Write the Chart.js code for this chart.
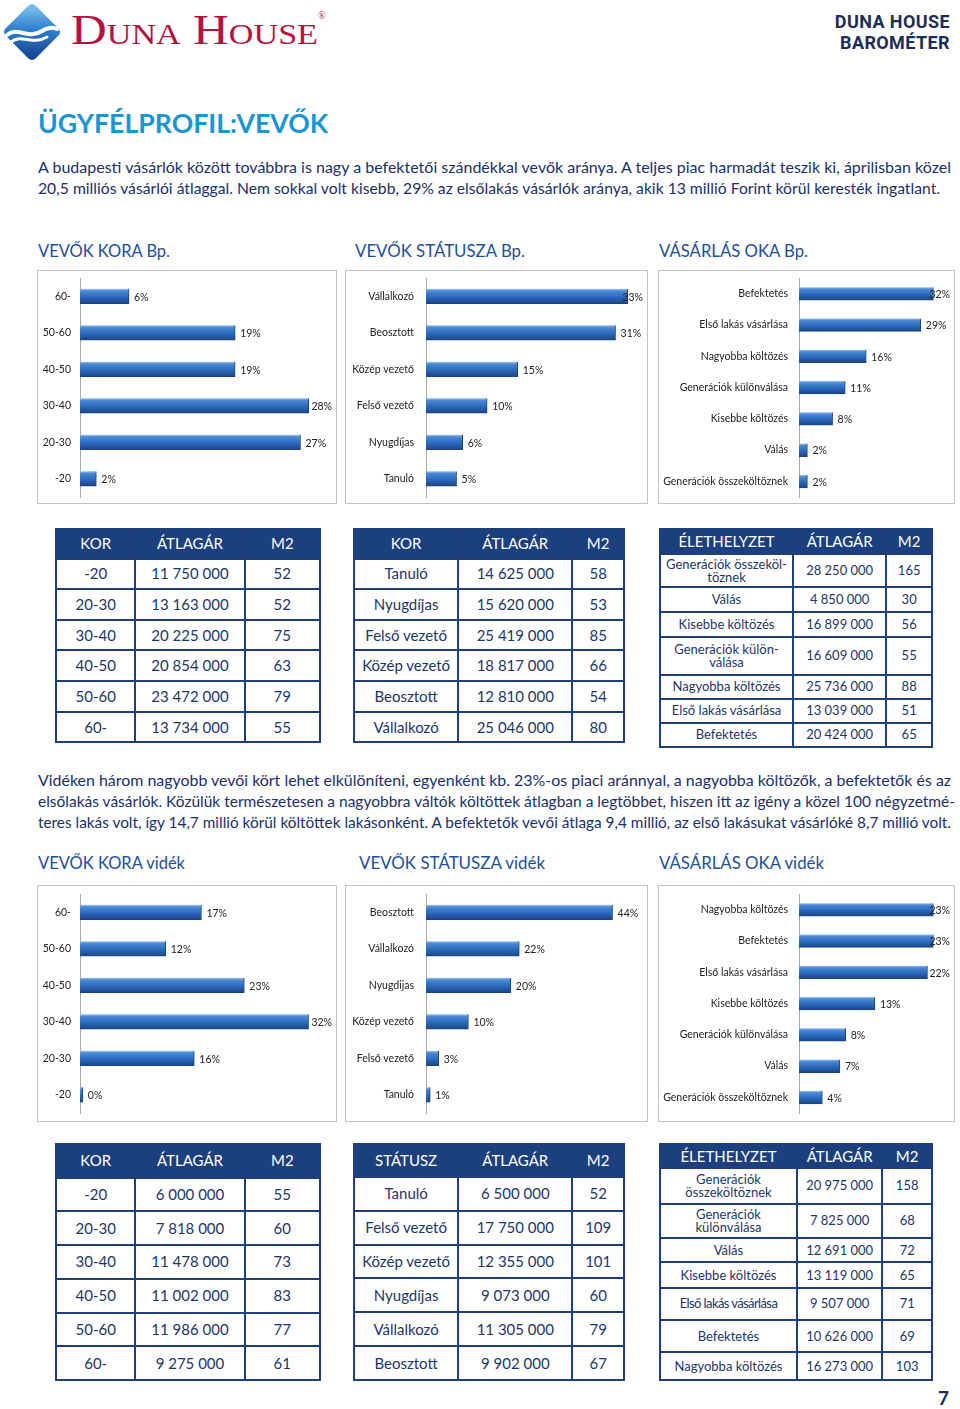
<!DOCTYPE html>
<html><head><meta charset="utf-8">
<script src="https://cdn.jsdelivr.net/npm/chart.js@4.4.1/dist/chart.umd.min.js"></script>
<style>
html,body{margin:0;padding:0;}
body{width:960px;height:1409px;background:#fff;position:relative;overflow:hidden;font-family:Lato,"Open Sans",sans-serif;}
.fit{position:absolute;white-space:nowrap;transform-origin:0 50%;line-height:20px;}
.para{font-size:16px;color:#1b3068;}
.head{font-size:17px;color:#1e4f98;}
.box{position:absolute;border:1px solid #c4c4c4;box-sizing:border-box;}
canvas{position:absolute;}
.tbl{position:absolute;display:grid;background:#1f3f7c;gap:2px;padding:2px;box-sizing:border-box;}
.tbl div{background:#fff;color:#1d3567;display:flex;align-items:center;justify-content:center;text-align:center;white-space:pre-line;font-size:14.5px;line-height:13px;}
.tbl div.h{background:#1c3f7e;color:#fff;font-size:15px;}
</style></head>
<body>
<svg width="66" height="66" viewBox="0 0 66 66" style="position:absolute;left:0;top:0">
<defs><linearGradient id="lg" x1="0" y1="0" x2="1" y2="1"><stop offset="0" stop-color="#8ccbf2"/><stop offset="0.45" stop-color="#2f80d0"/><stop offset="1" stop-color="#143c88"/></linearGradient></defs>
<rect x="10.8" y="10.8" width="42.4" height="42.4" rx="5" transform="rotate(45 32 32)" fill="url(#lg)"/>
<path d="M7 35 C18 26, 28 40, 42 31 C48 27, 53 27, 57 29" stroke="#fff" stroke-width="4" fill="none" stroke-linecap="round"/>
<path d="M11 42 C22 33, 32 46, 47 37" stroke="#fff" stroke-width="3" fill="none" stroke-linecap="round"/>
</svg>
<div class="fit" data-w="247" style="left:71px;top:9px;line-height:42px;font-family:'Liberation Serif','DejaVu Serif',serif;font-size:42px;font-variant:small-caps;color:#b5123e;">Duna House</div>
<div style="position:absolute;left:318px;top:10px;font-size:10px;color:#b5123e;font-family:'Liberation Serif',serif;">®</div>
<div style="position:absolute;right:10px;top:11px;text-align:right;font-family:Roboto,'DejaVu Sans',sans-serif;font-weight:bold;font-size:18px;line-height:21px;color:#1e2d55;letter-spacing:0.4px;">DUNA HOUSE<br>BAROMÉTER</div>

<div class="fit" data-w="290" style="left:38px;top:108px;line-height:30px;font-size:27px;font-weight:bold;color:#1a95d3;">ÜGYFÉLPROFIL:VEVŐK</div>

<div class="fit para" data-w="913" style="left:38px;top:157px;">A budapesti vásárlók között továbbra is nagy a befektetői szándékkal vevők aránya. A teljes piac harmadát teszik ki, áprilisban közel</div>
<div class="fit para" data-w="902" style="left:38px;top:178px;">20,5 milliós vásárlói átlaggal. Nem sokkal volt kisebb, 29% az elsőlakás vásárlók aránya, akik 13 millió Forint körül keresték ingatlant.</div>

<div class="fit head" data-w="132" style="left:38px;top:241px;">VEVŐK KORA Bp.</div>
<div class="fit head" data-w="170" style="left:355px;top:241px;">VEVŐK STÁTUSZA Bp.</div>
<div class="fit head" data-w="149" style="left:659px;top:241px;">VÁSÁRLÁS OKA Bp.</div>

<div class="box" style="left:37px;top:270px;width:300px;height:234px;"></div>
<div class="box" style="left:345px;top:270px;width:303px;height:234px;"></div>
<div class="box" style="left:658px;top:270px;width:297px;height:234px;"></div>
<canvas id="c1" width="299" height="233" style="left:37px;top:270px;"></canvas>
<canvas id="c2" width="302" height="233" style="left:345px;top:270px;"></canvas>
<canvas id="c3" width="296" height="233" style="left:658px;top:270px;"></canvas>

<div class="fit para" data-w="913" style="left:38px;top:770px;">Vidéken három nagyobb vevői kört lehet elkülöníteni, egyenként kb. 23%-os piaci aránnyal, a nagyobba költözők, a befektetők és az</div>
<div class="fit para" data-w="917" style="left:38px;top:791px;">elsőlakás vásárlók. Közülük természetesen a nagyobbra váltók költöttek átlagban a legtöbbet, hiszen itt az igény a közel 100 négyzetmé-</div>
<div class="fit para" data-w="913" style="left:38px;top:812px;">teres lakás volt, így 14,7 millió körül költöttek lakásonként. A befektetők vevői átlaga 9,4 millió, az első lakásukat vásárlóké 8,7 millió volt.</div>

<div class="fit head" data-w="147" style="left:38px;top:853px;">VEVŐK KORA vidék</div>
<div class="fit head" data-w="186" style="left:359px;top:853px;">VEVŐK STÁTUSZA vidék</div>
<div class="fit head" data-w="165" style="left:659px;top:853px;">VÁSÁRLÁS OKA vidék</div>

<div class="box" style="left:37px;top:885px;width:300px;height:237px;"></div>
<div class="box" style="left:345px;top:885px;width:303px;height:237px;"></div>
<div class="box" style="left:658px;top:885px;width:297px;height:237px;"></div>
<canvas id="c4" width="299" height="236" style="left:37px;top:885px;"></canvas>
<canvas id="c5" width="302" height="236" style="left:345px;top:885px;"></canvas>
<canvas id="c6" width="296" height="236" style="left:658px;top:885px;"></canvas>

<div id="tables"></div>
<div style="position:absolute;left:938px;top:1386px;font-size:19px;font-weight:bold;color:#1e2d55;">7</div>

<script>
// ---- Bar chart data ----
const ageLabelsBp = ['60-','50-60','40-50','30-40','20-30','-20'];
const ageBp = [6,19,19,28,27,2];
const statusLabelsBp = ['Vállalkozó','Beosztott','Közép vezető','Felső vezető','Nyugdíjas','Tanuló'];
const statusBp = [33,31,15,10,6,5];
const reasonLabelsBp = ['Befektetés','Első lakás vásárlása','Nagyobba költözés','Generációk különválása','Kisebbe költözés','Válás','Generációk összeköltöznek'];
const reasonBp = [32,29,16,11,8,2,2];
const ageLabelsVid = ['60-','50-60','40-50','30-40','20-30','-20'];
const ageVid = [17,12,23,32,16,0.4];
const statusLabelsVid = ['Beosztott','Vállalkozó','Nyugdijas','Közép vezető','Felső vezető','Tanuló'];
const statusVid = [44,22,20,10,3,1];
const reasonLabelsVid = ['Nagyobba költözés','Befektetés','Első lakás vásárlása','Kisebbe költözés','Generációk különválása','Válás','Generációk összeköltöznek'];
const reasonVid = [23,23,22,13,8,7,4];

// ---- Table data ----
const hdrAge = ['KOR','ÁTLAGÁR','M2'];
const hdrStatusBp = ['KOR','ÁTLAGÁR','M2'];
const hdrStatusVid = ['STÁTUSZ','ÁTLAGÁR','M2'];
const hdrReason = ['ÉLETHELYZET','ÁTLAGÁR','M2'];
const tAgeBpCat = ['-20','20-30','30-40','40-50','50-60','60-'];
const tAgeBpPrice = ['11 750 000','13 163 000','20 225 000','20 854 000','23 472 000','13 734 000'];
const tAgeBpM2 = [52,52,75,63,79,55];
const tStatusBpCat = ['Tanuló','Nyugdíjas','Felső vezető','Közép vezető','Beosztott','Vállalkozó'];
const tStatusBpPrice = ['14 625 000','15 620 000','25 419 000','18 817 000','12 810 000','25 046 000'];
const tStatusBpM2 = [58,53,85,66,54,80];
const tReasonBpCat = ['Generációk összeköl-\ntöznek','Válás','Kisebbe költözés','Generációk külön-\nválása','Nagyobba költözés','Első lakás vásárlása','Befektetés'];
const tReasonBpPrice = ['28 250 000','4 850 000','16 899 000','16 609 000','25 736 000','13 039 000','20 424 000'];
const tReasonBpM2 = [165,30,56,55,88,51,65];
const tAgeVidCat = ['-20','20-30','30-40','40-50','50-60','60-'];
const tAgeVidPrice = ['6 000 000','7 818 000','11 478 000','11 002 000','11 986 000','9 275 000'];
const tAgeVidM2 = [55,60,73,83,77,61];
const tStatusVidCat = ['Tanuló','Felső vezető','Közép vezető','Nyugdíjas','Vállalkozó','Beosztott'];
const tStatusVidPrice = ['6 500 000','17 750 000','12 355 000','9 073 000','11 305 000','9 902 000'];
const tStatusVidM2 = [52,109,101,60,79,67];
const tReasonVidCat = ['Generációk\nösszeköltöznek','Generációk\nkülönválása','Válás','Kisebbe költözés','Első lakás vásárlása','Befektetés','Nagyobba költözés'];
const tReasonVidPrice = ['20 975 000','7 825 000','12 691 000','13 119 000','9 507 000','10 626 000','16 273 000'];
const tReasonVidM2 = [158,68,72,65,71,69,103];

// fit text widths
document.querySelectorAll('.fit').forEach(el=>{
  const w=+el.dataset.w; const r=el.getBoundingClientRect().width;
  if(r>0) el.style.transform='scaleX('+(w/r)+')';
});

// tables
function makeTable(x,y,w,h,cols,rows,hdr,cat,price,m2,fs,extra){
  const t=document.createElement('div'); t.className='tbl';
  t.style.cssText+=`left:${x}px;top:${y}px;width:${w}px;height:${h}px;grid-template-columns:${cols.map(c=>c+'fr').join(' ')};grid-template-rows:${rows.map(r=>r+'fr').join(' ')};`;
  hdr.forEach(s=>{const d=document.createElement('div');d.className='h';d.textContent=s;t.appendChild(d);});
  cat.forEach((c,i)=>{
    [c,price[i],String(m2[i])].forEach((s,j)=>{const d=document.createElement('div');d.textContent=s;d.style.fontSize=fs+'px';
      if(extra&&extra[i]&&j===0) d.style.cssText+=extra[i]; t.appendChild(d);});
  });
  document.getElementById('tables').appendChild(t);
}
makeTable(55,528,266,215,[78,108,74],[30,30,31,31,31,31,30],hdrAge,tAgeBpCat,tAgeBpPrice,tAgeBpM2,15);
makeTable(353,528,272,215,[103,113,50],[30,30,31,31,31,31,30],hdrStatusBp,tStatusBpCat,tStatusBpPrice,tStatusBpM2,15);
makeTable(659,528,274,220,[132,92,44],[25,34,24,25,39,24,24,24],hdrReason,tReasonBpCat,tReasonBpPrice,tReasonBpM2,13);
makeTable(55,1143,266,238,[78,108,74],[34,34,34,34,34,34,34],hdrAge,tAgeVidCat,tAgeVidPrice,tAgeVidM2,15);
makeTable(353,1143,272,238,[103,113,50],[33,34,34,34,34,34,34],hdrStatusVid,tStatusVidCat,tStatusVidPrice,tStatusVidM2,15);
makeTable(659,1143,274,238,[136,84,48],[24,36,35,24,25,33,32,28],hdrReason,tReasonVidCat,tReasonVidPrice,tReasonVidM2,13,{4:'letter-spacing:-0.6px;'});

// charts
function barGradient(ctx){
  const chart=ctx.chart; const ys=chart.scales&&chart.scales.y;
  if(!ys||ctx.dataIndex===undefined) return '#2f6fc0';
  const yc=ys.getPixelForValue(ctx.dataIndex); const h=(ctx.dataset.barThickness||14)/2;
  if(!isFinite(yc)) return '#2f6fc0';
  const g=chart.ctx.createLinearGradient(0,yc-h,0,yc+h);
  g.addColorStop(0,'#9cc4ee'); g.addColorStop(0.15,'#4a8ad6'); g.addColorStop(0.55,'#2b69bd'); g.addColorStop(1,'#1a4587');
  return g;
}
const valueLabels={id:'valueLabels',afterDatasetsDraw(chart){
  const c=chart.ctx; const meta=chart.getDatasetMeta(0); const ds=chart.data.datasets[0];
  c.save(); c.font='10.5px Lato'; c.fillStyle='#222'; c.textBaseline='middle'; c.textAlign='left';
  meta.data.forEach((bar,i)=>{ const t=Math.round(ds.data[i])+'%'; const w=c.measureText(t).width;
    let x=Math.min(bar.x+5, chart.width-w-4); c.fillText(t,x,bar.y+1); });
  c.restore();
}};
function makeBar(id,labels,values,o){
  new Chart(document.getElementById(id),{type:'bar',
    data:{labels:labels,datasets:[{data:values,backgroundColor:barGradient,borderColor:'#1a4380',
      borderWidth:{top:0,right:1,bottom:1,left:0},borderSkipped:false,barThickness:o.bar}]},
    options:{indexAxis:'y',responsive:false,animation:false,devicePixelRatio:1,
      layout:{padding:{top:o.pt,bottom:o.pb,right:o.pr,left:0}},
      plugins:{legend:{display:false},tooltip:{enabled:false}},
      scales:{
        x:{display:false,min:0,max:o.max},
        y:{grid:{display:false,drawTicks:false},border:{display:true,color:'#a9a9a9',width:1},
           ticks:{padding:o.tp,color:'#222',font:{family:'Lato',size:10.5}},
           afterFit:s=>{s.width=o.yw;s.paddingTop=0;s.paddingBottom=0;}}
      }},
    plugins:[valueLabels]});
}
makeBar('c1',ageLabelsBp,ageBp,{bar:15,pt:8,pb:6,pr:11,max:30,yw:43,tp:9});
makeBar('c2',statusLabelsBp,statusBp,{bar:15,pt:8,pb:6,pr:7,max:35,yw:81,tp:12});
makeBar('c3',reasonLabelsBp,reasonBp,{bar:13,pt:8,pb:6,pr:8,max:35,yw:141,tp:11});
makeBar('c4',ageLabelsVid,ageVid,{bar:15,pt:9,pb:8,pr:6,max:35,yw:43,tp:9});
makeBar('c5',statusLabelsVid,statusVid,{bar:15,pt:9,pb:8,pr:9,max:50,yw:81,tp:12});
makeBar('c6',reasonLabelsVid,reasonVid,{bar:13,pt:9,pb:8,pr:9,max:25,yw:141,tp:11});
</script>
</body></html>
